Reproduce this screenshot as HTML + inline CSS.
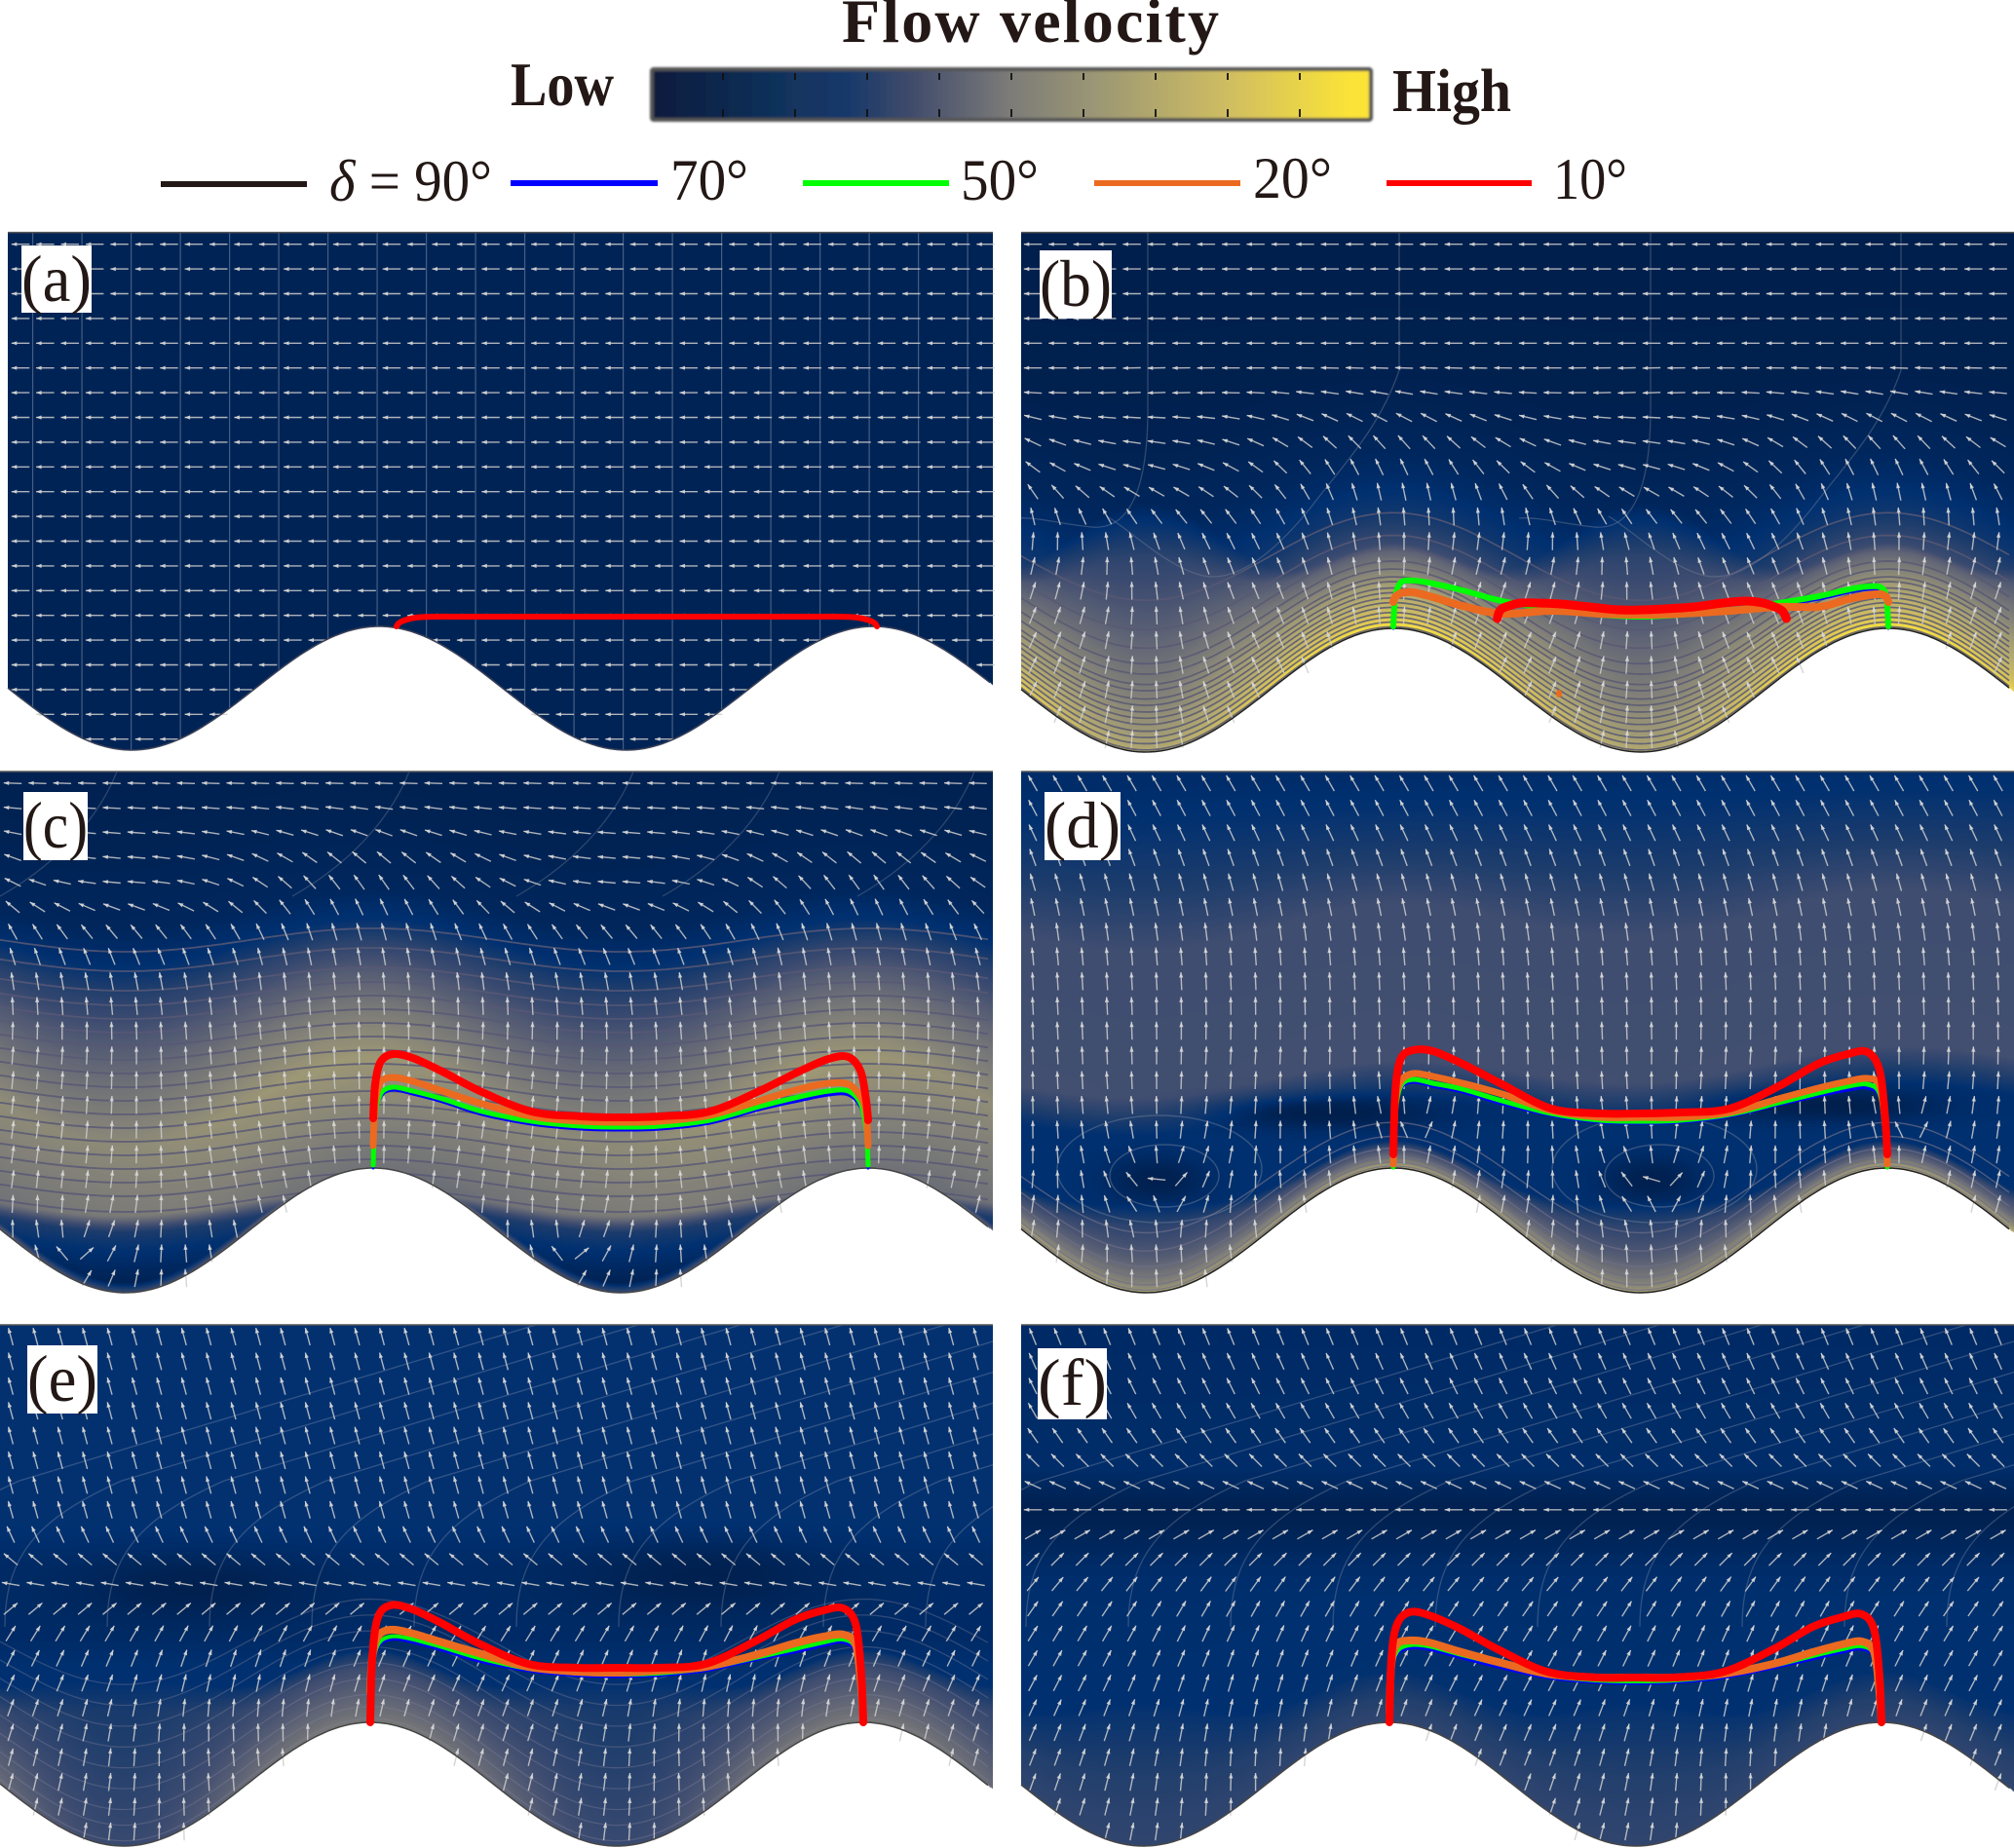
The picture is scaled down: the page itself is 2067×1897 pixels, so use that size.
<!DOCTYPE html>
<html lang="en">
<head>
<meta charset="utf-8">
<title>Flow velocity panels</title>
<style>
html,body{margin:0;padding:0;background:#fff;}
#stage{position:relative;width:2067px;height:1897px;overflow:hidden;background:#fff;}
#stage canvas{position:absolute;display:block;}
#overlay{position:absolute;left:0;top:0;}
text{font-family:"Liberation Serif",serif;fill:#231815;}
</style>
</head>
<body>
<div id="stage">
<svg id="overlay" width="2067" height="1897" viewBox="0 0 2067 1897" xmlns="http://www.w3.org/2000/svg">
  <defs>
    <filter id="soft" x="-2%" y="-10%" width="104%" height="120%"><feGaussianBlur stdDeviation="1.1"/></filter>
    <linearGradient id="cbar" x1="0" x2="1" y1="0" y2="0">
      <stop offset="0" stop-color="#0a1a3c"/><stop offset="0.03" stop-color="#0e1f42"/>
      <stop offset="0.2" stop-color="#12345f"/><stop offset="0.27" stop-color="#16386a"/>
      <stop offset="0.36" stop-color="#404b6c"/><stop offset="0.5" stop-color="#7d7c78"/>
      <stop offset="0.62" stop-color="#9c9774"/><stop offset="0.8" stop-color="#cfbd62"/>
      <stop offset="0.97" stop-color="#fbe338"/><stop offset="1" stop-color="#fbe338"/>
    </linearGradient>
  </defs>
  <g>
    <text x="864" y="43" font-size="64" font-weight="bold" textLength="387">Flow velocity</text>
    <text x="524" y="108" font-size="64" font-weight="bold" textLength="106" lengthAdjust="spacingAndGlyphs">Low</text>
    <text x="1429" y="114" font-size="62" font-weight="bold" textLength="122" lengthAdjust="spacingAndGlyphs">High</text>
    <rect x="669" y="71" width="738" height="52" rx="2" fill="url(#cbar)" stroke="#555" stroke-width="4" filter="url(#soft)"/>
    <g id="cbar-ticks"></g>
  </g>
  <g>
    <rect x="165" y="186" width="150" height="6" fill="#231815"/>
    <text x="338" y="206" font-size="60" textLength="167" lengthAdjust="spacingAndGlyphs"><tspan font-style="italic">δ</tspan> = 90°</text>
    <rect x="524" y="185" width="151" height="6" fill="#0000ff"/>
    <text x="688" y="205" font-size="60" textLength="80" lengthAdjust="spacingAndGlyphs">70°</text>
    <rect x="824" y="185" width="150" height="6" fill="#00ff00"/>
    <text x="986" y="205" font-size="60" textLength="80" lengthAdjust="spacingAndGlyphs">50°</text>
    <rect x="1123" y="185" width="150" height="6" fill="#eb6a20"/>
    <text x="1286" y="203" font-size="60" textLength="81" lengthAdjust="spacingAndGlyphs">20°</text>
    <rect x="1423" y="185" width="149" height="6" fill="#ff0000"/>
    <text x="1594" y="204" font-size="60" textLength="76" lengthAdjust="spacingAndGlyphs">10°</text>
  </g>
  <g id="panels"></g>
  <g>
    <rect x="22" y="252" width="72" height="69" fill="#fff"/>
    <text x="22" y="309" font-size="68" textLength="72" lengthAdjust="spacingAndGlyphs">(a)</text>
    <rect x="1067" y="257" width="74" height="70" fill="#fff"/>
    <text x="1067" y="314" font-size="68" textLength="74" lengthAdjust="spacingAndGlyphs">(b)</text>
    <rect x="24" y="813" width="66" height="70" fill="#fff"/>
    <text x="24" y="870" font-size="68" textLength="66" lengthAdjust="spacingAndGlyphs">(c)</text>
    <rect x="1072" y="813" width="78" height="70" fill="#fff"/>
    <text x="1072" y="870" font-size="68" textLength="78" lengthAdjust="spacingAndGlyphs">(d)</text>
    <rect x="28" y="1381" width="72" height="70" fill="#fff"/>
    <text x="28" y="1438" font-size="68" textLength="72" lengthAdjust="spacingAndGlyphs">(e)</text>
    <rect x="1065" y="1384" width="71" height="73" fill="#fff"/>
    <text x="1065" y="1442" font-size="68" textLength="71" lengthAdjust="spacingAndGlyphs">(f)</text>
  </g>
</svg>
</div>
<script>
// ---- Shared chord positions for every deformation curve ----
const chordFractions = [0,.004,.015,.04,.08,.14,.22,.32,.42,.5,.58,.68,.78,.86,.92,.96,.985,.996,1];

// ---- Curve heights above the crest, one array per panel and dip angle ----
const panelARed = [0,3,6,9,10,10,10,10,10,10,10,10,10,10,10,9,6,3,0];

const panelBBlue = [0,30,45,48,45,38,27,19,13,11,13,17,24,30,37,40,39,30,0];
const panelBGreen = [2,32,47,49,46,39,28,20,14,12,14,18,26,33,40,43,42,32,2];
const panelBOrange = [27,32,36,37,32,23,15,18,15,14,15,18,22,22,30,34,35,32,27];
const panelBRed = [10,15,20,23,26,26,25,22,19,19,20,22,26,28,26,22,18,13,10];

const panelCBlue = [0,50,73,80,76,68,55,45,40,39,40,46,60,69,75,75,62,36,0];
const panelCGreen = [3,53,76,83,79,71,58,48,43,42,43,49,63,73,79,79,66,39,3];
const panelCOrange = [23,66,88,93,89,79,66,53,48,47,48,54,69,81,87,86,73,56,23];
const panelCRed = [51,86,109,117,113,99,78,58,53,52,53,58,79,99,112,114,99,69,49];

const panelDBlue = [0,52,81,88,84,78,66,54,47,46,47,53,65,74,80,82,72,32,0];
const panelDGreen = [1,56,84,91,87,81,69,56,49,48,49,55,67,77,84,86,76,36,1];
const panelDOrange = [4,66,89,97,94,87,76,59,52,52,52,57,71,82,89,92,84,42,4];
const panelDRed = [14,79,112,121,120,107,86,61,56,56,57,61,84,107,117,119,99,49,14];

const panelEBlue = [0,48,76,85,83,75,63,53,48,47,48,53,64,72,79,82,70,25,0];
const panelEGreen = [0,52,79,88,86,78,66,55,50,49,50,55,66,75,82,85,74,28,0];
const panelEOrange = [31,66,88,95,92,83,71,57,52,51,53,57,69,81,88,90,79,35,0];
const panelERed = [0,66,107,120,117,103,81,60,56,56,56,60,83,105,115,117,100,49,0];

const panelFBlue = [0,47,69,76,75,67,57,46,41,40,41,46,56,65,72,75,65,22,0];
const panelFGreen = [0,50,72,79,78,70,60,48,43,42,43,48,58,68,75,78,68,25,0];
const panelFOrange = [10,60,80,84,82,73,62,50,46,46,46,50,60,72,80,83,72,30,0];
const panelFRed = [0,66,100,113,110,97,75,52,46,46,46,52,75,98,108,111,95,47,0];

// ---- Colour map used by every velocity field ----
const colorStops = [0,.05,.12,.2,.3,.4,.5,.6,.7,.85,1];
const colorValues = ['#001c46','#002355','#003070','#1c3c6c','#3e4c70','#646876','#858378','#a59e74','#bcb06c','#dcc658','#ffe838'];

// ---- Arrow tilts per grid row (deg, 0 = up, 90 = left) ----
const tiltBaseA = [90];
const tiltTroughA = [0];
const tiltSkewA = [0];
const tiltBaseB = [90,90,90,90,90,88,80,62,42,25,12,6,2,0,0,0,0,0,0,0,0,0];
const tiltTroughB = [0,0,0,0,0,3,12,25,40,50,48,30,15,8,4,0,0,0,0,0,0,0];
const tiltSkewB = [0,0,0,0,0,0,0,0,0,0,5,10,15,18,20,22,24,25,25,25,25,25];
const tiltBaseC = [88,82,70,50,35,25,15,10,5,3,2,0,0,0,0,0,0,0,0,0,0,0];
const tiltTroughC = [0,5,15,35,50,45,25,12,6,3,0,0,0,0,0,0,0,0,0,0,0,0];
const tiltSkewC = [0,0,0,0,0,0,0,0,0,2,4,5,6,8,10,12,14,14,14,14,14,14];
const tiltBaseD = [30,28,25,20,16,12,8,5,3,2,1,0,0,0,0,0,0,0,0,0,0,0];
const tiltTroughD = [0];
const tiltSkewD = [0,0,0,0,0,0,0,0,0,0,0,0,2,4,6,8,12,15,15,15,15,15];
const tiltBaseE = [15,15,15,15,15,15,15,16,25,50,80,-50,-30,-22,-18,-12,-8,-5,-5,-5,-5,-5];
const tiltTroughE = [0];
const tiltSkewE = [0,0,0,0,0,0,0,0,0,0,0,0,2,4,6,8,10,10,10,10,10,10];
const tiltBaseF = [22,24,26,30,35,45,65,90,-60,-45,-38,-32,-28,-25,-22,-18,-15,-12,-10,-10,-10,-10];
const tiltTroughF = [0];
const tiltSkewF = [0,0,0,0,0,0,0,0,0,0,2,3,4,5,6,7,8,9,10,10,10,10];

// ---- Velocity profiles along normalised depth ----
const depthB = [0,.35,.55,.62,.7,.78,.86,.93,1];
const speedB = [.02,.03,.07,.1,.16,.28,.42,.54,.62];
const depthC = [0,.15,.3,.37,.43,.5,.6,.72,.85,1];
const speedC = [.04,.05,.07,.12,.24,.34,.45,.55,.49,.42];
const depthD = [0,.08,.2,.32,1];
const speedD = [.1,.13,.2,.3,.32];
const depthE = [0,.45,.6,.8,1];
const speedE = [.13,.13,.12,.12,.12];

// ---- Contour levels ----
const contourLevelsB = [.996,.984,.972,.96,.947,.935,.923,.91,.898,.882,.87,.85,.83,.8,.765,.708];
const contourLevelsC = [965,985,1005,1020,1034,1048,1062,1076,1090,1104,1118,1132,1146,1160,1174,1188,1202,1216,1232];
const contourLevelsD = [.995,.985,.97,.95,.92,.885];
const contourLevelsE = [.99,.96,.93,.89,.85,.81,.77,.73,.69];

const SVGNS = 'http://www.w3.org/2000/svg';
const stage = document.getElementById('stage');
const panelsRoot = document.getElementById('panels');

function mk(tag, parent){
  const el = document.createElementNS(SVGNS, tag);
  parent.appendChild(el);
  return el;
}
function lerp(xs, ys, x){
  const n = xs.length;
  if (x <= xs[0]) return ys[0];
  if (x >= xs[n-1]) return ys[n-1];
  for (let i = 1; i < n; i++){
    if (x <= xs[i]){
      const f = (x - xs[i-1]) / (xs[i] - xs[i-1]);
      return ys[i-1] + (ys[i] - ys[i-1]) * f;
    }
  }
  return ys[n-1];
}
function hexRgb(h){ return [parseInt(h.slice(1,3),16),parseInt(h.slice(3,5),16),parseInt(h.slice(5,7),16)]; }
const lut = [];
(function(){
  const rgb = colorValues.map(hexRgb);
  for (let i = 0; i <= 255; i++){
    const v = i / 255;
    lut.push([0,1,2].map(k => lerp(colorStops, rgb.map(c => c[k]), v)));
  }
})();

const noCap = {y:[0,3000], v:[1,1]};
const noLayer = {d:[0,1], v:[0,0], s0:10, s1:10, mul:1};

const panels = [
 {id:'a', left:8, right:1019, top:238.6, crestY:643, troughY:770, crestX:389, period:507.5,
  chord:[407,900], depth:[0,1], speed:[.05,.05], tilt:0, cap:noCap, capAmp:0, layer:noLayer, blobs:[], boost:0, boostShift:0,
  arrows:{x0:21,y0:250.7,base:tiltBaseA,trough:tiltTroughA,skew:tiltSkewA,points:[]},
  contour:null, lineColor:'rgba(165,175,195,.42)', lineWidth:1.2, edge:'#3a3f55',
  curves:[{n:'red',h:panelARed,w:6,c:'#ff0000'}]},
 {id:'b', left:1048, right:2067, top:238.6, crestY:645, troughY:772, crestX:1430, period:508,
  chord:[1430,1938], depth:depthB, speed:speedB, tilt:0, cap:noCap, capAmp:0, blobs:[], boost:0, boostShift:0,
  layer:{d:[0,.15,.4,.7,1,1.6,2.2], v:[1,.88,.76,.66,.56,.38,0], s0:50, s1:125, mul:.66},
  arrows:{x0:1060,y0:250.7,base:tiltBaseB,trough:tiltTroughB,skew:tiltSkewB,points:[]},
  contour:{mode:'t',levels:contourLevelsB}, lineColor:'rgba(88,88,115,.85)', lineWidth:1.7, edge:'#222',
  curves:[{n:'blue',h:panelBBlue,w:3,c:'#0000ff'},{n:'green',h:panelBGreen,w:6,c:'#00ff00'},
          {n:'orange',h:panelBOrange,w:8,c:'#eb6a20'},{n:'red',h:panelBRed,w:9,c:'#ff0000',span:[.21,.794]}]},
 {id:'c', left:0, right:1019, top:792, crestY:1199, troughY:1327, crestX:383, period:508.5,
  chord:[383,891], depth:depthC, speed:speedC, tilt:0, blobs:[], boost:.05, boostShift:50,
  cap:{y:[1200,1250,1270,1300], v:[1,.2,.12,.05]}, capAmp:15,
  layer:{d:[0,.3,1], v:[.42,.3,0], s0:12, s1:12, mul:.7},
  arrows:{x0:13,y0:804,base:tiltBaseC,trough:tiltTroughC,skew:tiltSkewC,
          points:[{x:75,y:1280,k:1,r:50},{x:585,y:1280,k:1,r:50}]},
  contour:{mode:'y',levels:contourLevelsC,amp:12}, lineColor:'rgba(88,88,118,.85)', lineWidth:1.8, edge:'#444',
  curves:[{n:'blue',h:panelCBlue,w:3,c:'#0000ff'},{n:'green',h:panelCGreen,w:5,c:'#00ff00'},
          {n:'orange',h:panelCOrange,w:7,c:'#eb6a20'},{n:'red',h:panelCRed,w:8,c:'#ff0000'}]},
 {id:'d', left:1048, right:2067, top:792, crestY:1199, troughY:1327, crestX:1430, period:507,
  chord:[1430,1937], depth:depthD, speed:speedD, tilt:.03, boost:0, boostShift:0,
  cap:{y:[1095,1140,1175,1195,1400], v:[.34,.12,.12,.12,.12]}, capAmp:15,
  blobs:[{x:1367,y:1143,rx:110,ry:16,to:.02},{x:1880,y:1135,rx:110,ry:16,to:.02},
         {x:1187,y:1212,rx:50,ry:24,to:.03},{x:1695,y:1212,rx:50,ry:24,to:.03}],
  layer:{d:[0,.06,.15,.4,.75,1,1.2], v:[.72,.62,.55,.42,.3,.13,0], s0:28, s1:90, mul:.85},
  arrows:{x0:1060,y0:804,base:tiltBaseD,trough:tiltTroughD,skew:tiltSkewD,
          points:[{x:1190,y:1205,k:1.2,r:60},{x:1700,y:1205,k:1.2,r:60},{x:1445,y:1150,k:.8,r:30},{x:1955,y:1150,k:.8,r:30}]},
  contour:{mode:'t',levels:contourLevelsD}, lineColor:'rgba(110,110,135,.7)', lineWidth:1.4, edge:'#222',
  pockets:[{x:1190,y:1200,rx:105,ry:55},{x:1195,y:1207,rx:56,ry:32},{x:1698,y:1200,rx:105,ry:55},{x:1703,y:1207,rx:56,ry:32}],
  curves:[{n:'blue',h:panelDBlue,w:3,c:'#0000ff'},{n:'green',h:panelDGreen,w:5,c:'#00ff00'},
          {n:'orange',h:panelDOrange,w:7,c:'#eb6a20'},{n:'red',h:panelDRed,w:8,c:'#ff0000'}]},
 {id:'e', left:0, right:1019, top:1360, crestY:1768, troughY:1895, crestX:380, period:506,
  chord:[380,886], depth:depthE, speed:speedE, tilt:0, boost:0, boostShift:0,
  cap:{y:[1560,1610,1680,1720], v:[.13,.09,.09,.13]}, capAmp:0,
  blobs:[{x:200,y:1630,rx:110,ry:30,to:.03},{x:720,y:1620,rx:120,ry:35,to:.03}],
  layer:{d:[0,.2,.5,.8,1,1.2], v:[.46,.42,.36,.3,.18,0], s0:70, s1:175, mul:.62},
  arrows:{x0:11,y0:1372,base:tiltBaseE,trough:tiltTroughE,skew:tiltSkewE,points:[]},
  contour:{mode:'t',levels:contourLevelsE}, lineColor:'rgba(130,130,155,.36)', lineWidth:1.3, edge:'#444',
  diagonals:true,
  curves:[{n:'blue',h:panelEBlue,w:3,c:'#0000ff'},{n:'green',h:panelEGreen,w:4,c:'#00ff00'},
          {n:'orange',h:panelEOrange,w:8,c:'#eb6a20'},{n:'red',h:panelERed,w:8,c:'#ff0000'}]},
 {id:'f', left:1048, right:2067, top:1360, crestY:1768, troughY:1895, crestX:1426, period:505,
  chord:[1426,1931], depth:[0,1], speed:[.09,.13], tilt:0, boost:0, boostShift:0, blobs:[],
  cap:{y:[1490,1552,1610,1660], v:[.13,.03,.1,.13]}, capAmp:0,
  layer:{d:[0,.5,1,1.3], v:[.26,.22,.14,0], s0:50, s1:140, mul:1},
  arrows:{x0:1060,y0:1372,base:tiltBaseF,trough:tiltTroughF,skew:tiltSkewF,points:[]},
  contour:null, lineColor:'rgba(150,155,175,.3)', lineWidth:1.3, edge:'#444',
  diagonals:true,
  curves:[{n:'blue',h:panelFBlue,w:3,c:'#0000ff'},{n:'green',h:panelFGreen,w:4,c:'#00ff00'},
          {n:'orange',h:panelFOrange,w:8,c:'#eb6a20'},{n:'red',h:panelFRed,w:8,c:'#ff0000'}]}
];

function cosPhase(p, x){ return Math.cos(2*Math.PI*(x-p.crestX)/p.period); }
function sinPhase(p, x){ return Math.sin(2*Math.PI*(x-p.crestX)/p.period); }
function boundary(p, x){
  return (p.crestY+p.troughY)/2 - (p.troughY-p.crestY)/2*cosPhase(p, x);
}
function rowValue(arr, j){ return arr[Math.min(j, arr.length-1)]; }

function paintField(p){
  const top = Math.floor(p.top), w = p.right-p.left, h = Math.ceil(p.troughY)+2-top;
  const cv = document.createElement('canvas');
  cv.width = w;
  cv.height = h;
  cv.style.left = p.left+'px';
  cv.style.top = top+'px';
  
  
  stage.insertBefore(cv, document.getElementById('overlay'));
  const ctx = cv.getContext('2d');
  const img = ctx.createImageData(w, h);
  const xmid = (p.left+p.right)/2;
  const L = p.layer;
  for (let px = 0; px < w; px++){
    const x = p.left+px+.5;
    const b = boundary(p, x);
    const c = cosPhase(p, x);
    const tr = (1-c)/2;
    const scale = L.s0+(L.s1-L.s0)*tr*tr;
    const mulL = L.mul+(1-L.mul)*(1-tr*tr);
    const mod = 1+p.boost*Math.cos(2*Math.PI*(x-p.crestX+p.boostShift)/p.period);
    for (let py = 0; py < h; py++){
      const y = top+py+.5;
      const i = (py*w+px)*4;
      if (y > b) continue;
      const y1 = y+p.tilt*(x-xmid);
      const t = (y1-p.top)/(b-p.top);
      let v = lerp(p.depth, p.speed, t)*mod;
      v = Math.min(v, lerp(p.cap.y, p.cap.v, y1+p.capAmp*c));
      for (let k = 0; k < p.blobs.length; k++){
        const q = p.blobs[k];
        const dx = (x-q.x)/q.rx, dy = (y-q.y)/q.ry;
        const f = Math.exp(-(dx*dx+dy*dy));
        v += (q.to-v)*f;
      }
      v = Math.max(v, lerp(L.d, L.v, (b-y)/scale)*mulL);
      const col = lut[Math.max(0, Math.min(255, Math.round(v*255)))];
      img.data[i] = col[0];
      img.data[i+1] = col[1];
      img.data[i+2] = col[2];
      img.data[i+3] = 255;
    }
  }
  ctx.putImageData(img, 0, 0);
}

function wavePath(p, yFn){
  let d = '';
  for (let x = p.left; x <= p.right; x += 6){
    d += (d ? 'L' : 'M')+x+','+yFn(x).toFixed(1);
  }
  return d;
}

function smoothPath(pts){
  let d = 'M'+pts[0][0].toFixed(1)+','+pts[0][1].toFixed(1);
  for (let i = 0; i < pts.length-1; i++){
    const p0 = pts[Math.max(0,i-1)], p1 = pts[i], p2 = pts[i+1], p3 = pts[Math.min(pts.length-1,i+2)];
    d += 'C'+(p1[0]+(p2[0]-p0[0])/6).toFixed(1)+','+(p1[1]+(p2[1]-p0[1])/6).toFixed(1)+' '+
         (p2[0]-(p3[0]-p1[0])/6).toFixed(1)+','+(p2[1]-(p3[1]-p1[1])/6).toFixed(1)+' '+
         p2[0].toFixed(1)+','+p2[1].toFixed(1);
  }
  return d;
}

function drawPanel(p){
  const g = mk('g', panelsRoot);
  
  

  // clip follows the wavy lower boundary
  const clip = mk('clipPath', g);
  clip.setAttribute('id', 'clip-'+p.id);
  const cp = mk('path', clip);
  cp.setAttribute('d', wavePath(p, x => boundary(p, x))+'L'+p.right+','+boundary(p,p.right).toFixed(1)+'L'+p.right+','+p.top+'L'+p.left+','+p.top+'Z');

  const lines = mk('g', g);
  lines.setAttribute('clip-path', 'url(#clip-'+p.id+')');
  lines.setAttribute('fill', 'none');
  lines.setAttribute('stroke', p.lineColor);
  lines.setAttribute('stroke-width', p.lineWidth);
  
  

  if (p.contour){
    p.contour.levels.forEach(function(level){
      const path = mk('path', lines);
      
      
      if (p.contour.mode === 't'){
        path.setAttribute('d', wavePath(p, x => p.top+level*(boundary(p,x)-p.top)));
      } else {
        path.setAttribute('d', wavePath(p, x => level-p.contour.amp*cosPhase(p,x)));
      }
    });
  }
  if (p.id === 'a'){
    for (let x = 33.6; x < p.right; x += 50.5){
      const path = mk('path', lines);
      
      
      path.setAttribute('d', 'M'+x+','+p.top+'L'+x+','+boundary(p,x).toFixed(1));
    }
  }
  if (p.id === 'b'){
    [1178,1436,1694,1951].forEach(function(x, i){
      const path = mk('path', lines);
      
      
      path.setAttribute('stroke', 'rgba(120,130,155,.42)');
      path.setAttribute('stroke-width', '1.3');
      path.setAttribute('d', i%2===0
        ? 'M'+x+',238 L'+x+',420 C'+x+',500 '+(x-18)+',545 '+(x-58)+',541 C'+(x-88)+',538 '+(x-118)+',530 '+(x-135)+',532'
        : 'M'+x+',238 L'+x+',380 C'+(x-20)+',440 '+(x-60)+',480 '+(x-90)+',520 C'+(x-130)+',570 '+(x-170)+',600 '+(x-205)+',590 C'+(x-240)+',580 '+(x-275)+',545 '+(x-300)+',530');
    });
  }
  if (p.id === 'c'){
    [120,420,650,800,1000].forEach(function(x){
      const path = mk('path', lines);
      
      
      path.setAttribute('stroke', 'rgba(120,130,155,.4)');
      path.setAttribute('stroke-width', '1.2');
      path.setAttribute('d', 'M'+x+',792 C'+(x-15)+',830 '+(x-50)+',880 '+(x-120)+',920');
    });
  }
  if (p.diagonals){
    for (let x = p.left-100; x < p.right; x += 105){
      const path = mk('path', lines);
      
      
      path.setAttribute('stroke', 'rgba(150,160,180,.32)');
      path.setAttribute('d', 'M'+x+',1670 C'+x+',1600 '+(x+30)+',1560 '+(x+120)+',1520 L'+(x+650)+',1360');
    }
  }
  if (p.pockets){
    p.pockets.forEach(function(k){
      const el = mk('ellipse', lines);
      
      
      el.setAttribute('cx', k.x);
      el.setAttribute('cy', k.y);
      el.setAttribute('rx', k.rx);
      el.setAttribute('ry', k.ry);
      el.setAttribute('stroke', 'rgba(130,140,160,.4)');
    });
  }

  // arrows
  const A = p.arrows;
  let shafts = '', heads = '';
  const len = 18.5;
  for (let j = 0; j < 22; j++){
    const y = A.y0+25.4*j;
    for (let x = A.x0; x < p.right; x += 25.4){
      if (y > boundary(p, x)+3) continue;
      const c = cosPhase(p, x), s = sinPhase(p, x);
      const deg = rowValue(A.base,j)+rowValue(A.trough,j)*(1-c)/2-rowValue(A.skew,j)*s;
      const rad = deg*Math.PI/180;
      let ux = -Math.sin(rad), uy = -Math.cos(rad);
      A.points.forEach(function(q){
        const dx = x-q.x, dy = y-q.y, r = Math.hypot(dx,dy)||1;
        const f = q.k*Math.exp(-r/q.r);
        ux += f*dx/r;
        uy += f*dy/r;
      });
      const n = Math.hypot(ux,uy)||1;
      ux /= n;
      uy /= n;
      const tipx = x+ux*len/2, tipy = y+uy*len/2;
      shafts += 'M'+(x-ux*len/2).toFixed(1)+','+(y-uy*len/2).toFixed(1)+'L'+tipx.toFixed(1)+','+tipy.toFixed(1);
      const hbx = tipx-ux*5.5, hby = tipy-uy*5.5;
      heads += 'M'+tipx.toFixed(1)+','+tipy.toFixed(1)+'L'+(hbx-uy*2.1).toFixed(1)+','+(hby+ux*2.1).toFixed(1)+'L'+(hbx+uy*2.1).toFixed(1)+','+(hby-ux*2.1).toFixed(1)+'Z';
    }
  }
  const shaft = mk('path', g);
  
  
  shaft.setAttribute('d', shafts);
  shaft.setAttribute('stroke', 'rgba(205,205,205,.85)');
  shaft.setAttribute('stroke-width', '1.4');
  shaft.setAttribute('fill', 'none');
  const head = mk('path', g);
  
  
  head.setAttribute('d', heads);
  head.setAttribute('fill', 'rgba(215,215,215,.9)');

  // frame and boundary
  const bline = mk('path', g);
  
  
  bline.setAttribute('d', wavePath(p, x => boundary(p, x)));
  bline.setAttribute('fill', 'none');
  bline.setAttribute('stroke', p.edge);
  bline.setAttribute('stroke-width', '1.5');
  const topLine = mk('path', g);
  
  
  topLine.setAttribute('d', 'M'+p.left+','+p.top+'L'+p.right+','+p.top);
  topLine.setAttribute('stroke', '#555');
  topLine.setAttribute('stroke-width', '1.5');

  // deformation curves
  const xScale = (s, span) => p.chord[0]+(p.chord[1]-p.chord[0])*(span[0]+s*(span[1]-span[0]));
  const yScale = h => p.crestY-h;
  p.curves.forEach(function(cv){
    const span = cv.span || [0,1];
    const pts = chordFractions.map((s,i) => [xScale(s,span), yScale(cv.h[i])]);
    const path = mk('path', g);
    
    
    path.setAttribute('d', smoothPath(pts));
    path.setAttribute('fill', 'none');
    path.setAttribute('stroke', cv.c);
    path.setAttribute('stroke-width', cv.w);
    path.setAttribute('stroke-linecap', 'round');
    path.setAttribute('stroke-linejoin', 'round');
  });
  if (p.id === 'b'){
    const dot = mk('ellipse', g);
    
    
    dot.setAttribute('cx', '1600');
    dot.setAttribute('cy', '712');
    dot.setAttribute('rx', '3');
    dot.setAttribute('ry', '4');
    dot.setAttribute('fill', '#eb6a20');
  }
}

panels.forEach(function(p){
  paintField(p);
  drawPanel(p);
});

// colour bar ticks
const cbarTickCount = 9;
const tickRoot = document.getElementById('cbar-ticks');
for (let i = 1; i <= cbarTickCount; i++){
  const x = 668+i*74;
  [[75,82],[112,120]].forEach(function(range){
    const t = mk('line', tickRoot);
    
    
    t.setAttribute('x1', x);
    t.setAttribute('x2', x);
    t.setAttribute('y1', range[0]);
    t.setAttribute('y2', range[1]);
    t.setAttribute('stroke', '#111');
    t.setAttribute('stroke-width', '1.8');
  });
}
</script>
</body>
</html>
